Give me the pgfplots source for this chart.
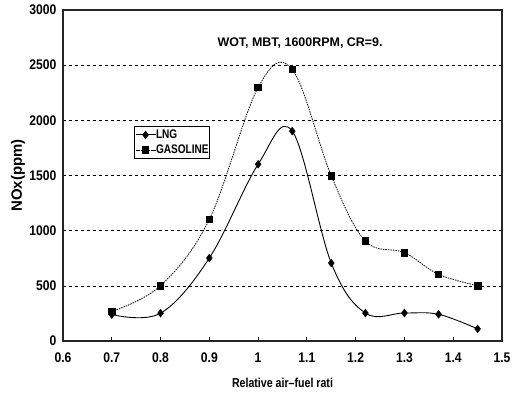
\documentclass[border=0pt]{standalone}
\usepackage{fontspec}
\setmainfont{Liberation Sans}
\usepackage{graphicx}
\usepackage{pgfplots}
\pgfplotsset{compat=1.18}
\newcommand\sx[1]{\scalebox{0.87}[1]{#1}}
\begin{document}
\begin{tikzpicture}
\begin{axis}[
  scale only axis,
  width=439bp, height=331bp,
  xmin=0.6, xmax=1.5, ymin=0, ymax=3000,
  xtick={0.6,0.7,0.8,0.9,1.0,1.1,1.2,1.3,1.4,1.5},
  xticklabels={\sx{0.6},\sx{0.7},\sx{0.8},\sx{0.9},\sx{1},\sx{1.1},\sx{1.2},\sx{1.3},\sx{1.4},\sx{1.5}},
  ytick={0,500,1000,1500,2000,2500,3000},
  yticklabels={\sx{0},\sx{500},\sx{1000},\sx{1500},\sx{2000},\sx{2500},\sx{3000}},
  ymajorgrids,
  major grid style={black, line width=0.6pt, dash pattern=on 3pt off 3pt},
  tick align=inside,
  xtick pos=bottom,
  ytick style={draw=none},
  xtick style={black, line width=0.8pt},
  major tick length=4bp,
  axis line style={line width=1.4pt, black!85},
  tick label style={font=\fontsize{14}{16}\selectfont\bfseries},
  xticklabel style={yshift=-8bp},
  yticklabel style={xshift=-3bp},
  xlabel={\scalebox{0.82}[1]{Relative air–fuel rati}},
  ylabel={NOx(ppm)},
  xlabel style={font=\fontsize{13}{15}\selectfont\bfseries, at={(axis description cs:0.5,-0.127)}, anchor=center},
  ylabel style={font=\fontsize{15}{17}\selectfont\bfseries, at={(axis description cs:-0.1025,0.5)}, anchor=center},
  legend style={at={(axis cs:0.745,1949)}, anchor=north west, draw=black,
    line width=0.8pt, font=\fontsize{12.5}{14}\selectfont\bfseries, inner xsep=1pt, inner ysep=1.5pt,
    row sep=1pt, cells={anchor=west}, nodes={inner xsep=0pt, inner ysep=2pt},
    /tikz/every even column/.append style={column sep=2pt}},
  legend image code/.code={\draw[mark repeat=2,mark phase=2] plot coordinates {(0bp,0bp)(10bp,0bp)(20bp,0bp)};},
  legend cell align=left,
]
\addplot[black, line width=0.9pt, smooth, tension=0.6, mark=diamond*, mark size=3.6bp]
  coordinates {(0.7,240) (0.8,252) (0.9,752) (1.0,1602) (1.07,1902) (1.15,706) (1.22,253) (1.3,254) (1.37,242) (1.45,110)};
\addlegendentry{\scalebox{0.81}[1]{LNG}}
\addplot[black, line width=0.8pt, dash pattern=on 1.5pt off 1pt, smooth, tension=0.6, mark=square*, mark size=3.3bp, mark options={solid}]
  coordinates {(0.7,268) (0.8,502) (0.9,1103) (1.0,2298) (1.07,2460) (1.15,1497) (1.22,906) (1.3,801) (1.37,604) (1.45,502)};
\addlegendentry{\scalebox{0.81}[1]{GASOLINE}}
\node[font=\fontsize{12.5}{14}\selectfont\bfseries] at (axis cs:1.086,2700) {WOT, MBT, 1600RPM, CR=9.};
\end{axis}
\pgfresetboundingbox
\path (current axis.south west) ++(-63bp,-53bp) coordinate (bl);
\path (current axis.north east) ++(27bp,10bp) coordinate (tr);
\path[use as bounding box] (bl) rectangle (tr);
\end{tikzpicture}
\end{document}
